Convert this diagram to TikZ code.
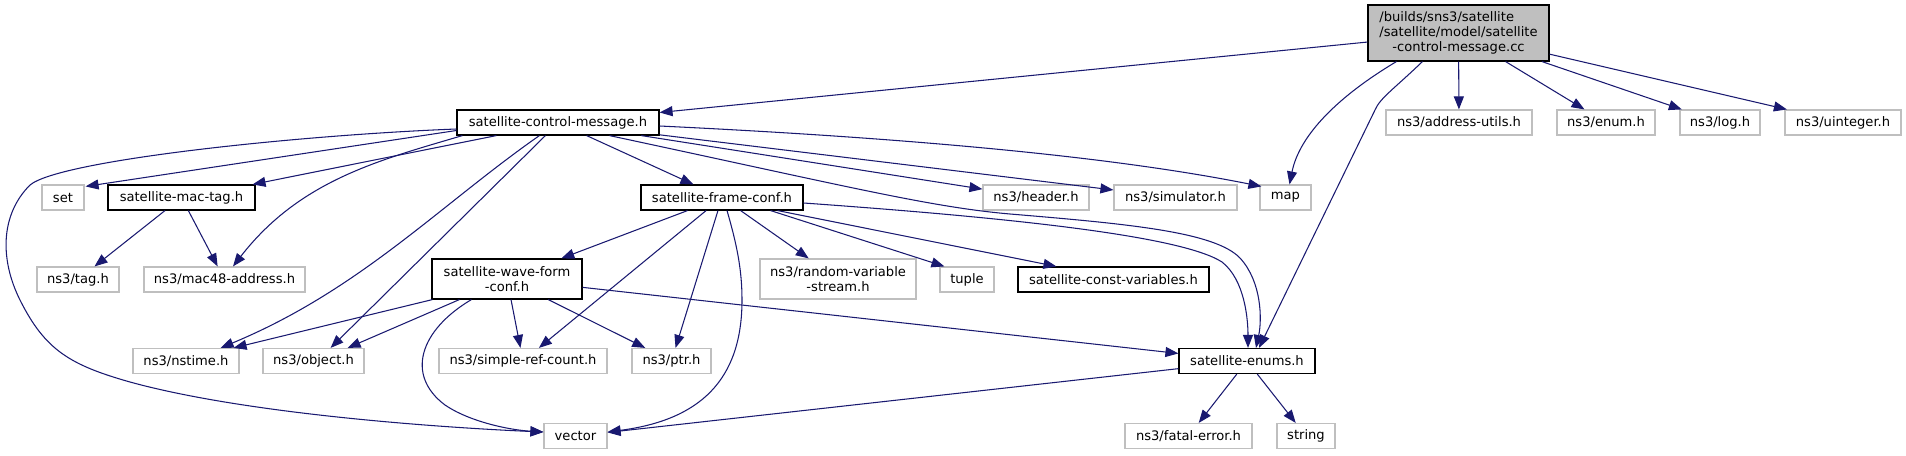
\documentclass[tikz,border=0pt]{standalone}
\usepackage{fontspec}
\setmainfont{DejaVu Sans}
\usetikzlibrary{arrows.meta,calc}
\definecolor{depblue}{HTML}{191970}
\definecolor{extgray}{HTML}{BFBFBF}

\begin{document}
\begin{tikzpicture}[x=0.2mm, y=-0.2mm,
        font=\fontsize{7.45}{8.7}\selectfont,
        box/.style={rectangle, inner sep=0pt, minimum height=5mm, line width=0.65pt, fill=white, align=center},
        incfile/.style={box, draw=black},
        extfile/.style={box, draw=extgray},
        mainfile/.style={box, draw=black, fill=extgray, minimum height=11.2mm},
        dep/.style={depblue, line width=0.6pt, -{Triangle[length=2.6mm, width=2mm]}}]

        \useasboundingbox (0,0) rectangle (1906,455);

        \node [mainfile, minimum width=36.2mm] (root) at (1458.5,33) {\rlap{/builds/sns3/satellite}\phantom{/satellite/model/satellite}\\/satellite/model/satellite\\-control-message.cc};

        \node [incfile, minimum width=40.4mm] (scm) at (558,122.5) {satellite-control-message.h};
        \node [extfile, minimum width=29.2mm] (addr) at (1459,122.5) {ns3/address-utils.h};
        \node [extfile, minimum width=19.6mm] (enumh) at (1606,122.5) {ns3/enum.h};
        \node [extfile, minimum width=16mm] (logh) at (1720,122.5) {ns3/log.h};
        \node [extfile, minimum width=23.2mm] (uinth) at (1843,122.5) {ns3/uinteger.h};

        \node [extfile, minimum width=8.4mm] (set) at (63,197.5) {set};
        \node [incfile, minimum width=29.4mm] (mactag) at (181.5,197.5) {satellite-mac-tag.h};
        \node [incfile, minimum width=32.4mm] (frame) at (722,197.5) {satellite-frame-conf.h};
        \node [extfile, minimum width=21.2mm] (header) at (1036,197.5) {ns3/header.h};
        \node [extfile, minimum width=24.6mm] (simul) at (1175.5,197.5) {ns3/simulator.h};
        \node [extfile, minimum width=10.2mm] (map) at (1285.5,197.5) {map};

        \node [extfile, minimum width=16.4mm] (tag) at (78,279.5) {ns3/tag.h};
        \node [extfile, minimum width=32.2mm] (mac48) at (224.5,279.5) {ns3/mac48-address.h};
        \node [incfile, minimum width=30mm, minimum height=8mm] (wave) at (507,279) {satellite-wave-form\\-conf.h};
        \node [extfile, minimum width=31.2mm, minimum height=8mm] (random) at (838,279) {ns3/random-variable\\-stream.h};
        \node [extfile, minimum width=10.8mm] (tuple) at (967,279.5) {tuple};
        \node [incfile, minimum width=38.2mm] (constv) at (1113.5,279.5) {satellite-const-variables.h};

        \node [extfile, minimum width=21.2mm] (nstime) at (186,361) {ns3/nstime.h};
        \node [extfile, minimum width=20.2mm] (object) at (313.5,361) {ns3/object.h};
        \node [extfile, minimum width=33.6mm] (simple) at (523,361) {ns3/simple-ref-count.h};
        \node [extfile, minimum width=15.8mm] (ptr) at (671.5,361) {ns3/ptr.h};
        \node [incfile, minimum width=27.2mm] (enums) at (1247,361) {satellite-enums.h};

        \node [extfile, minimum width=12.6mm] (vector) at (575.5,436) {vector};
        \node [extfile, minimum width=25.4mm] (fatal) at (1188.5,436) {ns3/fatal-error.h};
        \node [extfile, minimum width=11.6mm] (string) at (1306,436) {string};

        \begin{scope}[dep]
        \draw (root) -- (scm);
        \draw (root) -- (addr);
        \draw (root) -- (enumh);
        \draw (root) -- (logh);
        \draw (root) -- (uinth);
        \draw ($(root.south west)+(29,0)$) .. controls +(-57,34) and +(10,-50) .. ($(map.north)+(4,0)$);
        \draw ($(root.south west)+(55,0)$) .. controls +(-28,27) and +(5,-12) .. (1375,110) -- ($(enums.north)+(12,0)$);

        \draw ($(scm.west)+(0,8)$) -- ($(set.north east)+(1,2)$);
        \draw ($(scm.west)+(0,6.5)$) .. controls (300,135) and (60,160) .. (30,185) .. controls (0,215) and (0,260) .. (20,300) .. controls (45,350) and (70,365) .. (130,382) .. controls (250,415) and (450,428) .. ($(vector.west)+(0,-4)$);
        \draw ($(scm.south west)+(40,0)$) -- ($(mactag.north east)+(-3,0)$);
        \draw ($(scm.south west)+(6,0)$) .. controls (380,160) and (300,180) .. ($(mac48.north)+(8.5,0)$);
        \draw ($(scm.south west)+(83,0)$) .. controls (440,205) and (360,290) .. ($(nstime.north east)+(-19,0)$);
        \draw ($(scm.south west)+(89,0)$) -- ($(object.north east)+(-34,0)$);
        \draw (scm) -- (frame);
        \draw (scm) -- (header);
        \draw (scm) -- (simul);
        \draw ($(scm.east)+(0,3.5)$) .. controls +(250,12) and +(-150,-30) .. ($(map.north west)+(2,2)$);
        \draw ($(scm.south west)+(153,0)$) .. controls (850,187) and (930,207) .. (1010,214) .. controls (1130,224) and (1215,232) .. (1240,258) .. controls (1262,282) and (1262,320) .. ($(enums.north)+(9,0)$);

        \draw (mactag) -- (tag);
        \draw (mactag) -- (mac48);

        \draw (frame) -- (wave);
        \draw (frame) -- (simple);
        \draw (frame) -- (ptr);
        \draw ($(frame.south)+(5,0)$) .. controls (737,245) and (742,270) .. (742,300) .. controls (742,380) and (700,420) .. ($(vector.east)+(0,-4)$);
        \draw (frame) -- (random);
        \draw ($(frame.south east)+(-33,0)$) -- ($(tuple.north west)+(5,0)$);
        \draw ($(frame.south east)+(-26,0)$) -- ($(constv.north west)+(39,0)$);
        \draw ($(frame.east)+(0,5.5)$) .. controls (1000,217) and (1180,235) .. (1222,262) .. controls (1245,280) and (1248,320) .. ($(enums.north)+(1,0)$);

        \draw ($(wave.south west)+(1,0)$) -- ($(nstime.north east)+(-6,0)$);
        \draw ($(wave.south west)+(28,0)$) -- ($(object.north east)+(-17,0)$);
        \draw ($(wave.south west)+(40,0)$) .. controls (420,330) and (405,375) .. (445,405) .. controls (470,422) and (510,430) .. ($(vector.west)+(0,-4)$);
        \draw (wave) -- (simple);
        \draw (wave) -- (ptr);
        \draw (wave) -- (enums);

        \draw (enums) -- (vector);
        \draw (enums) -- (fatal);
        \draw (enums) -- (string);
        \end{scope}

\end{tikzpicture}
\end{document}
